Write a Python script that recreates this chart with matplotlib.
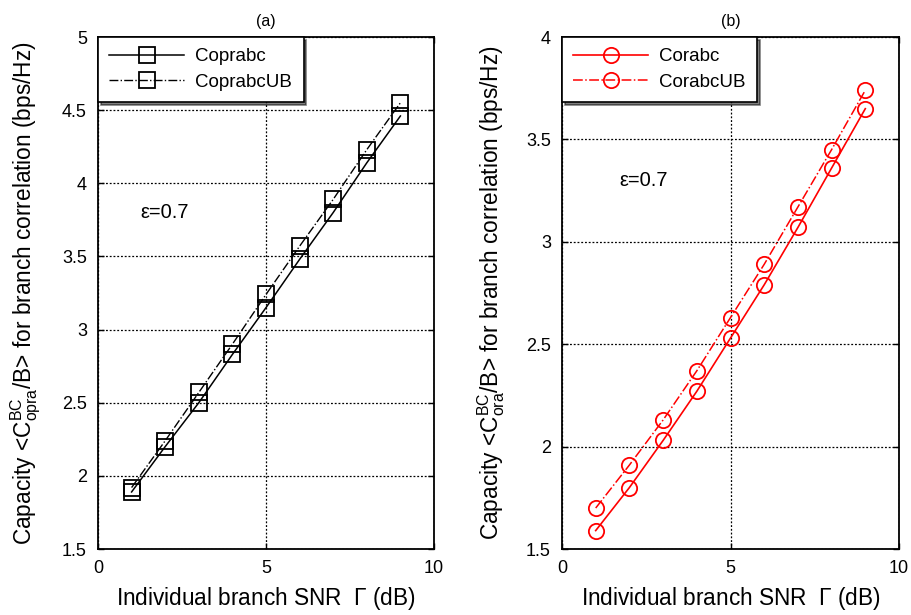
import numpy as np
import matplotlib.pyplot as plt

plt.rcParams['font.family'] = ['Liberation Sans', 'DejaVu Sans']
plt.rcParams['mathtext.fontset'] = 'custom'
plt.rcParams['mathtext.rm'] = 'Liberation Sans'
plt.rcParams['mathtext.it'] = 'Liberation Sans'

# data
snr = [1, 2, 3, 4, 5, 6, 7, 8, 9]
coprabc = [1.89, 2.20, 2.50, 2.83, 3.15, 3.48, 3.80, 4.14, 4.46]
coprabc_ub = [1.92, 2.24, 2.57, 2.90, 3.24, 3.57, 3.89, 4.23, 4.55]
corabc = [1.59, 1.80, 2.03, 2.27, 2.53, 2.79, 3.07, 3.36, 3.65]
corabc_ub = [1.70, 1.91, 2.13, 2.37, 2.63, 2.89, 3.17, 3.45, 3.74]

fig = plt.figure(figsize=(9.11, 6.15), dpi=100)
ax1 = fig.add_axes([98 / 911, 1 - 549 / 615, 336 / 911, 512 / 615])
ax2 = fig.add_axes([562 / 911, 1 - 549 / 615, 337 / 911, 512 / 615])


def style(ax, ylim, yticks, title, sub):
    ax.set_xlim(0, 10)
    ax.set_ylim(*ylim)
    ax.set_xticks([0, 5, 10])
    ax.set_yticks(yticks)
    ax.set_yticklabels([f"{t:g}" for t in yticks])
    ax.tick_params(direction='in', labelsize=13, length=4, width=1, pad=8,
                   top=True, right=True)
    ax.grid(True, color='black', linestyle=(0, (1.5, 1.5)), linewidth=0.9)
    for s in ax.spines.values():
        s.set_linewidth(1.3)
    ax.set_title(title, fontsize=11.5, pad=8)
    ax.set_xlabel(r"Individual branch SNR  $\Gamma$ (dB)", fontsize=16.3, labelpad=6)
    ax.set_ylabel(r"Capacity <$\mathrm{C}^{\mathrm{BC}}_{\mathrm{" + sub + r"}}$/B> for branch correlation (bps/Hz)",
                  fontsize=16.3, labelpad=14)


ax1.plot(snr, coprabc, color='black', lw=1.1, marker='s', ms=11,
         mfc='none', mew=1.3, label='Coprabc')
ax1.plot(snr, coprabc_ub, color='black', lw=1.0, ls='-.', marker='s', ms=11,
         mfc='none', mew=1.3, label='CoprabcUB')
style(ax1, (1.5, 5), [1.5, 2, 2.5, 3, 3.5, 4, 4.5, 5], '(a)', 'opra')
ax1.text(1.25, 3.8, "ε=0.7", fontsize=14.5, va='center')

ax2.plot(snr, corabc, color='red', lw=1.2, marker='o', ms=11,
         mfc='none', mew=1.3, label='Corabc')
ax2.plot(snr, corabc_ub, color='red', lw=1.1, ls='-.', marker='o', ms=11,
         mfc='none', mew=1.3, label='CorabcUB')
style(ax2, (1.5, 4), [1.5, 2, 2.5, 3, 3.5, 4], '(b)', 'ora')
ax2.text(1.7, 3.3, "ε=0.7", fontsize=14.5, va='center')

for ax in (ax1, ax2):
    leg = ax.legend(loc='upper left', fontsize=13.5, fancybox=False,
                    shadow={'ox': 2, 'oy': -2, 'color': 'black'},
                    framealpha=1, edgecolor='black', borderaxespad=0,
                    handlelength=4.0, borderpad=0.6, labelspacing=0.45,
                    handletextpad=0.6)
    leg.get_frame().set_linewidth(1.2)

fig.savefig('out.png', dpi=100)
